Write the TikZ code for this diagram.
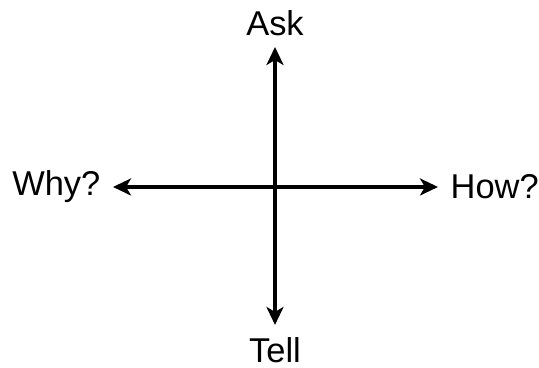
\documentclass[tikz,border=0pt]{standalone}
\usepackage{fontspec}
\setmainfont{Liberation Sans}
\usetikzlibrary{arrows.meta, positioning}

\begin{document}
\begin{tikzpicture}[lbl/.style={inner sep=0.12cm, font=\fontsize{9.8}{11}\selectfont},
                    axis/.style={-{Stealth[length=0.18cm, width=0.17cm, inset=0.05cm]}, line width=1.1pt}]
  \useasboundingbox (0,0) rectangle (5.39,3.68);
  % Centre of the cross
  \coordinate (o) at (2.75,1.81);
  % Labels
  \node[lbl, inner sep=0.1cm, above=1.4cm of o] (ask) {Ask};
  \node[lbl, below=1.38cm of o] (tell) {Tell};
  \node[lbl, left=1.62cm of o] (why) {Why?};
  \node[lbl, right=1.63cm of o] (how) {How?};
  % Arrows
  \draw[axis] (o) -- (ask);
  \draw[axis] (o) -- (tell);
  \draw[axis] (o) -- (why);
  \draw[axis] (o) -- (how);
\end{tikzpicture}
\end{document}
